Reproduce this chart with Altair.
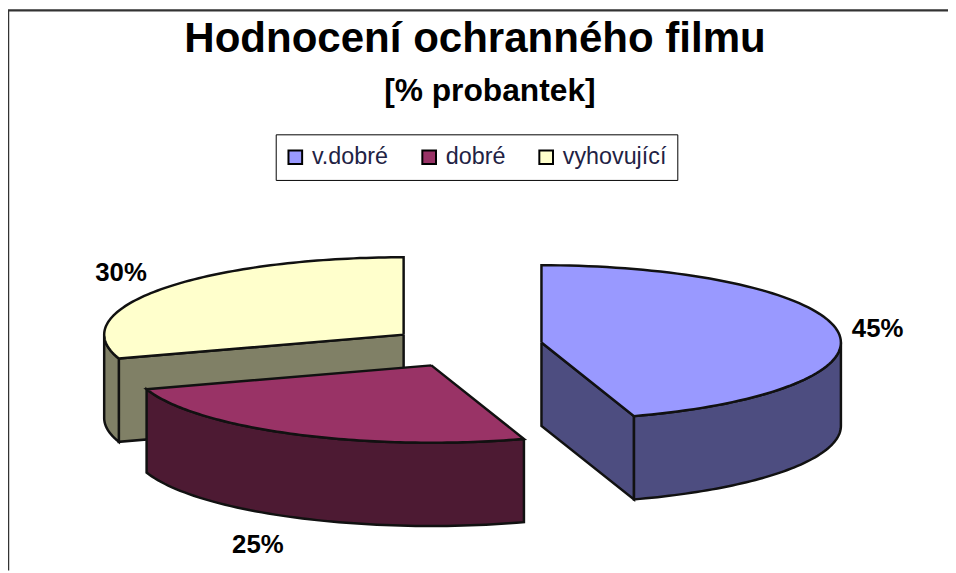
import math
import altair as alt
import pandas as pd

categories = ["v.dobré", "dobré", "vyhovující"]
shares = [45, 25, 30]
top_colors = ["#9999ff", "#993366", "#ffffcc"]
side_colors = ["#4d4d80", "#4d1a33", "#808066"]
centers = [(538, 335), (427, 358), (399, 327)]   # exploded slice centres, plot coordinates
label_pos = [(877, 321), (252, 539), (114, 265)]

W, H = 948, 565
RX, RY, DEPTH = 302, 78, 84


def pt(c, deg, dz=0):
    a = math.radians(deg)
    return (c[0] + RX * math.sin(a), c[1] - RY * math.cos(a) + dz)


def frame(points, cat=None):
    return pd.DataFrame(
        [{"x": p[0], "y": p[1], "i": i, "cat": cat} for i, p in enumerate(points)]
    )


x_enc = alt.X("x:Q", scale=alt.Scale(domain=[0, W]), axis=None)
y_enc = alt.Y("y:Q", scale=alt.Scale(domain=[H, 0]), axis=None)
layers = []

starts = []
acc = 0
for s in shares:
    starts.append(acc)
    acc += s

color_scale = alt.Scale(domain=categories, range=top_colors)
legend = alt.Legend(
    title=None, orient="none", legendX=270, legendY=125, direction="horizontal",
    columns=3, strokeColor="black", fillColor="white", padding=11,
    symbolType="square", symbolSize=190, symbolStrokeColor="black", symbolStrokeWidth=2,
    symbolOffset=-3,
    labelFont="Liberation Sans", labelFontSize=23.5, labelColor="#222244",
    columnPadding=29, labelOffset=5,
)


def poly(points, fill):
    return (
        alt.Chart(frame(points + points[:1]))
        .mark_line(fill=fill, stroke="#111111", strokeWidth=2.5, interpolate="linear")
        .encode(x=x_enc, y=y_enc, order="i:Q")
    )


for idx in [2, 1, 0]:
    c = centers[idx]
    a0 = starts[idx] * 3.6
    a1 = (starts[idx] + shares[idx]) * 3.6
    side = side_colors[idx]
    # cut wall facing the viewer
    if idx == 0:
        layers.append(poly([c, pt(c, a1), pt(c, a1, DEPTH), (c[0], c[1] + DEPTH)], side))
    if idx == 2:
        layers.append(poly([c, pt(c, a0), pt(c, a0, DEPTH), (c[0], c[1] + DEPTH)], side))
    # outer rim, visible part only
    r0, r1 = max(a0, 90), min(a1, 270)
    steps = [r0 + (r1 - r0) * k / 60 for k in range(61)]
    layers.append(poly([pt(c, d) for d in steps] + [pt(c, d, DEPTH) for d in reversed(steps)], side))
    # top face
    arc = [a0 + (a1 - a0) * k / 90 for k in range(91)]
    top = [c] + [pt(c, d) for d in arc] + [c]
    layers.append(
        alt.Chart(frame(top, categories[idx]))
        .mark_line(stroke="#111111", strokeWidth=2.5)
        .encode(x=x_enc, y=y_enc, order="i:Q",
                fill=alt.Fill("cat:N", scale=color_scale, legend=legend, sort=None))
    )

labels = pd.DataFrame(
    {"x": [p[0] for p in label_pos], "y": [p[1] for p in label_pos],
     "t": [f"{s}%" for s in shares]}
)
layers.append(
    alt.Chart(labels)
    .mark_text(font="Liberation Sans", fontWeight="bold", fontSize=26, color="black")
    .encode(x=x_enc, y=y_enc, text="t:N")
)
layers.append(
    alt.Chart(pd.DataFrame({"x": [486], "y": [81], "t": ["[% probantek]"]}))
    .mark_text(font="Liberation Sans", fontWeight="bold", fontSize=32, color="black")
    .encode(x=x_enc, y=y_enc, text="t:N")
)
# chart frame: top and left edges
layers.append(
    alt.Chart(pd.DataFrame({"x": [0, 0, W], "y": [H, 0, 0], "i": [0, 1, 2]}))
    .mark_line(stroke="#333333", strokeWidth=2.5, clip=False)
    .encode(x=x_enc, y=y_enc, order="i:Q")
)

chart = (
    alt.layer(*layers)
    .properties(
        width=W, height=H, padding=0,
        autosize=alt.AutoSizeParams(type="none"),
        title=alt.TitleParams(
            "Hodnocení ochranného filmu", font="Liberation Sans", fontSize=42.4,
            fontWeight="bold", color="black", anchor="middle", dx=-3, dy=60,
        ),
    )
    .configure_view(stroke=None)
)
chart.save("out.html", embed_options={"renderer": "svg", "actions": False})
